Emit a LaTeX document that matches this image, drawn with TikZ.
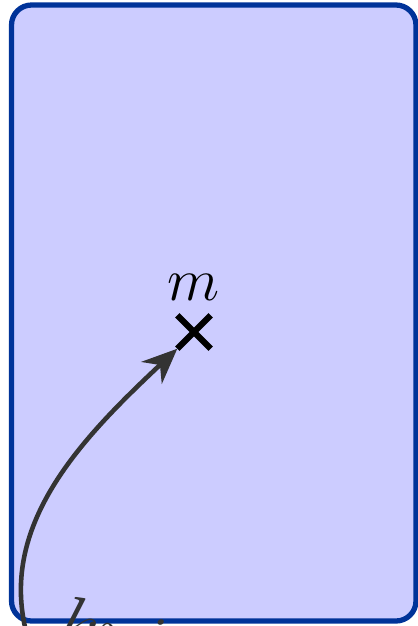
\documentclass[tikz,border=0pt]{standalone}
\usetikzlibrary{arrows.meta, positioning}

\definecolor{regionfill}{HTML}{CCCCFF}
\definecolor{regionborder}{HTML}{003399}

\begin{document}
\begin{tikzpicture}[
    x=0.01cm, y=-0.01cm,
    every node/.style={font=\LARGE},
    region/.style={line width=1.5pt, draw=regionborder, fill=regionfill, rounded corners=0.2cm},
    flow/.style={line width=1.3pt, draw=black!80, -{Stealth[length=10pt,width=8.5pt]}},
]

% === Canvas ===
\useasboundingbox (0,0) rectangle (418,626);
\clip (0,0) rectangle (418,626);

% === Region (rounded rectangle) ===
\draw[region] (11.5,5) rectangle (416,621);

% === Mean marker ===
\node[inner sep=0pt, minimum size=0.32cm] (cross) at (194,332) {};
\draw[line width=1.8pt, black] (cross.north west) -- (cross.south east)
    (cross.north east) -- (cross.south west);
\node[above=0.02cm of cross] (m) {$m$};

% === Incoming path ===
\coordinate (start) at (30,645);
\draw[flow] (start) .. controls (-8,530) and (80,440) .. (cross.south west);

% === Path label (cut off at the bottom) ===
\node[anchor=base west, rotate=-13, text=black!80, font=\huge] (lbl) at (42,641) {$knit$};

\end{tikzpicture}
\end{document}
